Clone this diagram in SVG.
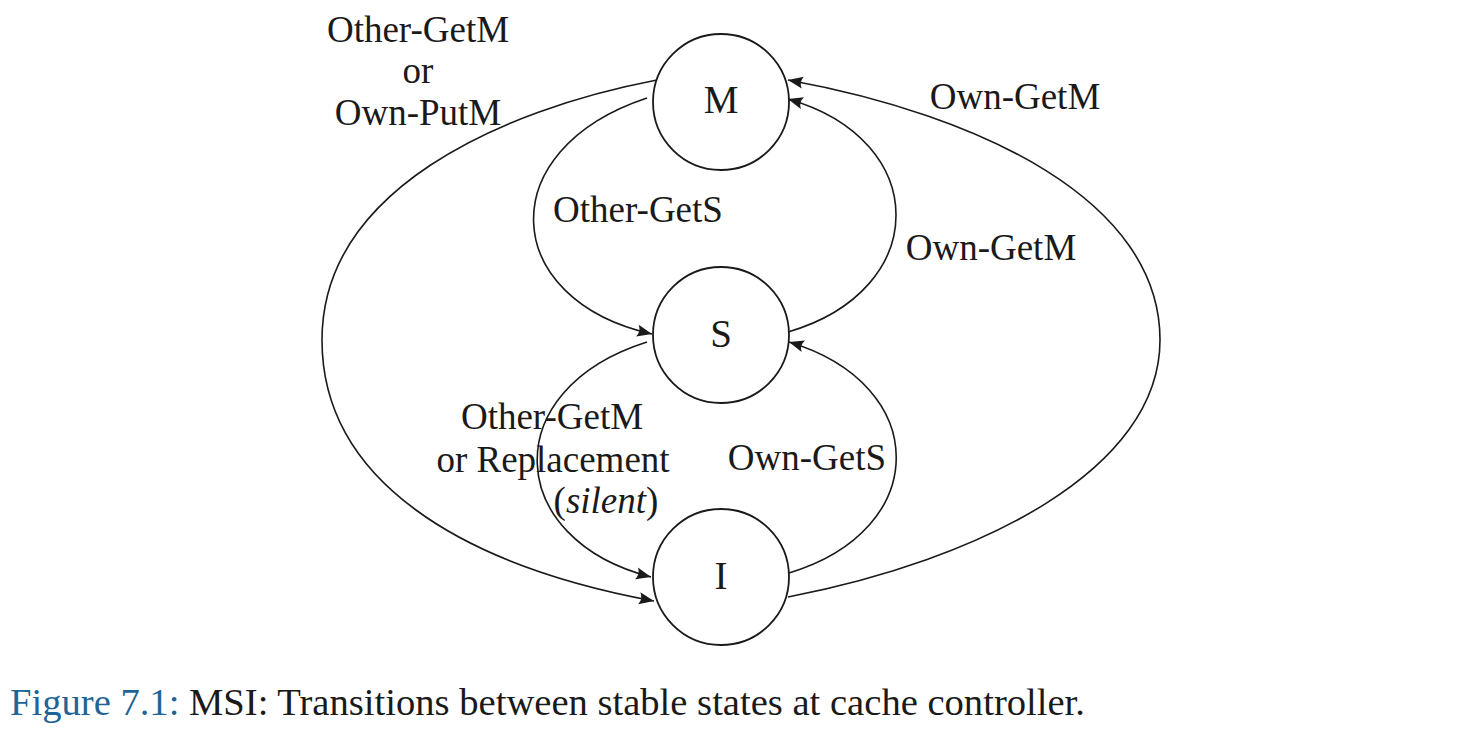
<svg xmlns="http://www.w3.org/2000/svg" width="1478" height="738" viewBox="0 0 1478 738">
<style>
.node{fill:#fff;stroke:#1a1a1a;stroke-width:1.8}
.edge{fill:none;stroke:#1a1a1a;stroke-width:1.6;marker-end:url(#arr)}
.lbl{font-family:"Liberation Serif","DejaVu Serif",serif;font-size:37px;fill:#1a1a1a;text-anchor:middle}
.nl{font-family:"Liberation Serif","DejaVu Serif",serif;font-size:39px;fill:#1a1a1a;text-anchor:middle}
.cap{font-family:"Liberation Serif","DejaVu Serif",serif;font-size:37px;fill:#1a1a1a}
</style>
<defs>
<marker id="arr" markerUnits="userSpaceOnUse" markerWidth="20" markerHeight="16" viewBox="-16 -8 18 16" refX="0" refY="0" orient="auto">
<path d="M0,0 L-15,-6 Q-11,0 -15,6 Z" fill="#1a1a1a"/>
</marker>
</defs>
<rect width="1478" height="738" fill="#fff"/>
<g id="connectors">
<path class="edge" d="M657,80 C500,110 322,190 322,340 C322,480 460,565 654,601"/>
<path class="edge" d="M647,98 C490,150 500,300 652,334"/>
<path class="edge" d="M788,332 C932,290 932,140 788,99"/>
<path class="edge" d="M647,342 C495,390 505,540 651,577"/>
<path class="edge" d="M789,573 C932,530 932,385 789,342"/>
<path class="edge" d="M788,597 C980,560 1160,470 1160,340 C1160,200 980,115 788,80"/>
</g>
<g id="edge-labels">
<text class="lbl" x="418" y="42">Other-GetM</text>
<text class="lbl" x="418" y="83">or</text>
<text class="lbl" x="418" y="125">Own-PutM</text>
<text class="lbl" x="1015" y="109">Own-GetM</text>
<text class="lbl" x="638" y="222">Other-GetS</text>
<text class="lbl" x="991" y="260">Own-GetM</text>
<text class="lbl" x="552" y="429">Other-GetM</text>
<text class="lbl" x="553" y="472">or Replacement</text>
<text class="lbl" x="606" y="513">(<tspan font-style="italic">silent</tspan>)</text>
<text class="lbl" x="807" y="470">Own-GetS</text>
</g>
<g id="node-M">
<circle class="node" cx="721" cy="102" r="68"/>
<text class="nl" x="721" y="113">M</text>
</g>
<g id="node-S">
<circle class="node" cx="721" cy="335" r="68"/>
<text class="nl" x="721" y="347">S</text>
</g>
<g id="node-I">
<circle class="node" cx="721" cy="577" r="68"/>
<text class="nl" x="721" y="589">I</text>
</g>
<g id="caption">
<text class="cap" x="10" y="715" textLength="1075" lengthAdjust="spacingAndGlyphs"><tspan fill="#1f6496">Figure 7.1:</tspan> MSI: Transitions between stable states at cache controller.</text>
</g>
</svg>
